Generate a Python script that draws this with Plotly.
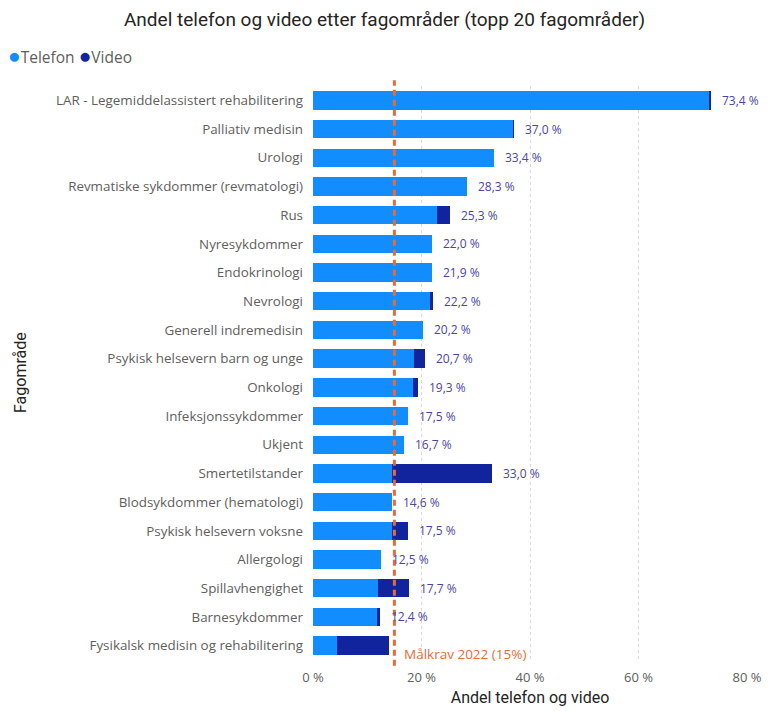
import plotly.graph_objects as go

categories = [
    "LAR - Legemiddelassistert rehabilitering", "Palliativ medisin", "Urologi",
    "Revmatiske sykdommer (revmatologi)", "Rus", "Nyresykdommer", "Endokrinologi",
    "Nevrologi", "Generell indremedisin", "Psykisk helsevern barn og unge",
    "Onkologi", "Infeksjonssykdommer", "Ukjent", "Smertetilstander",
    "Blodsykdommer (hematologi)", "Psykisk helsevern voksne", "Allergologi",
    "Spillavhengighet", "Barnesykdommer", "Fysikalsk medisin og rehabilitering",
]
telefon = [73.0, 36.9, 33.4, 28.3, 22.8, 22.0, 21.9, 21.6, 20.2, 18.7,
           18.4, 17.5, 16.7, 14.5, 14.6, 14.5, 12.5, 12.0, 11.8, 4.4]
video = [0.4, 0.1, 0.0, 0.0, 2.5, 0.0, 0.0, 0.6, 0.0, 2.0,
         0.9, 0.0, 0.0, 18.5, 0.0, 3.0, 0.0, 5.7, 0.6, 9.7]
totals = [73.4, 37.0, 33.4, 28.3, 25.3, 22.0, 21.9, 22.2, 20.2, 20.7,
          19.3, 17.5, 16.7, 33.0, 14.6, 17.5, 12.5, 17.7, 12.4, None]
target = 15
x_ticks = [0, 20, 40, 60, 80]
x_tick_labels = ["0 %", "20 %", "40 %", "60 %", "80 %"]
series_names = ["Telefon", "Video"]

C_TEL = "#118DFF"
C_VID = "#12239E"
C_TARGET = "#E66C37"
FONT = "Open Sans, sans-serif"
TFONT = "Roboto, sans-serif"

fig = go.Figure()
fig.add_trace(go.Bar(y=categories, x=telefon, orientation="h", name=series_names[0],
                     marker=dict(color=C_TEL, line=dict(width=0)), showlegend=False))
fig.add_trace(go.Bar(y=categories, x=video, orientation="h", name=series_names[1],
                     marker=dict(color=C_VID, line=dict(width=0)), showlegend=False))

for cat, tot in zip(categories, totals):
    if tot is None:
        continue
    fig.add_annotation(x=tot, y=cat, xref="x", yref="y", xanchor="left",
                       xshift=9, showarrow=False,
                       text=f"{tot:.1f} %".replace(".", ","),
                       font=dict(family=FONT, size=12, color="#4A45A8"))

fig.add_shape(type="line", xref="x", yref="paper", x0=target, x1=target,
              y0=-0.01, y1=1.01, line=dict(color=C_TARGET, width=3, dash="6px,4px"))
fig.add_annotation(x=target, y=0, xref="x", yref="paper", xanchor="left",
                   yanchor="bottom", xshift=8, yshift=-5, showarrow=False,
                   text="Målkrav 2022 (15%)",
                   font=dict(family=FONT, size=13.5, color=C_TARGET))

# legend drawn as text
legend_text = (f"<span style='color:{C_TEL};font-size:21px'>●</span>{series_names[0]} "
               f"<span style='color:{C_VID};font-size:21px'>●</span>{series_names[1]}")
fig.add_annotation(xref="paper", yref="paper", x=(6 - 313) / 434,
                   y=1 + (86 - 55) / 574, showarrow=False,
                   text=legend_text, xanchor="left", yanchor="middle",
                   font=dict(family=FONT, size=15.5, color="#605E5C"))

fig.update_layout(
    width=769, height=711,
    barmode="stack", bargap=0.36,
    plot_bgcolor="white", paper_bgcolor="white",
    margin=dict(l=313, r=22, t=86, b=51, autoexpand=False),
    showlegend=False,
    title=dict(text="Andel telefon og video etter fagområder (topp 20 fagområder)",
               x=0.5, xanchor="center", y=1 - 19 / 711, yanchor="middle",
               font=dict(family=TFONT, size=19, color="#252423")),
    font=dict(family=FONT, color="#605E5C"),
)
fig.update_xaxes(range=[0, 80], tickvals=x_ticks, ticktext=x_tick_labels,
                 showgrid=True, gridcolor="#D8D8D8", griddash="dot", gridwidth=1,
                 zeroline=False, showline=False, ticks="", automargin=False,
                 tickfont=dict(family=FONT, size=13, color="#605E5C"),
                 ticklabelstandoff=8,
                 title=dict(text="Andel telefon og video", standoff=6,
                            font=dict(family=TFONT, size=16, color="#252423")))
fig.update_yaxes(autorange="reversed", showgrid=False, zeroline=False, ticks="",
                 automargin=False,
                 tickfont=dict(family=FONT, size=13.4, color="#605E5C"),
                 ticklabelstandoff=9)
fig.add_annotation(x=0, y=0.5, xref="paper", yref="paper", xanchor="center",
                   yanchor="middle", xshift=-293, showarrow=False, textangle=-90,
                   text="Fagområde",
                   font=dict(family=TFONT, size=16, color="#252423"))

fig.write_html("out.html", config={"displayModeBar": False},
               post_script="document.body.style.margin='0';document.body.style.overflow='hidden';")
